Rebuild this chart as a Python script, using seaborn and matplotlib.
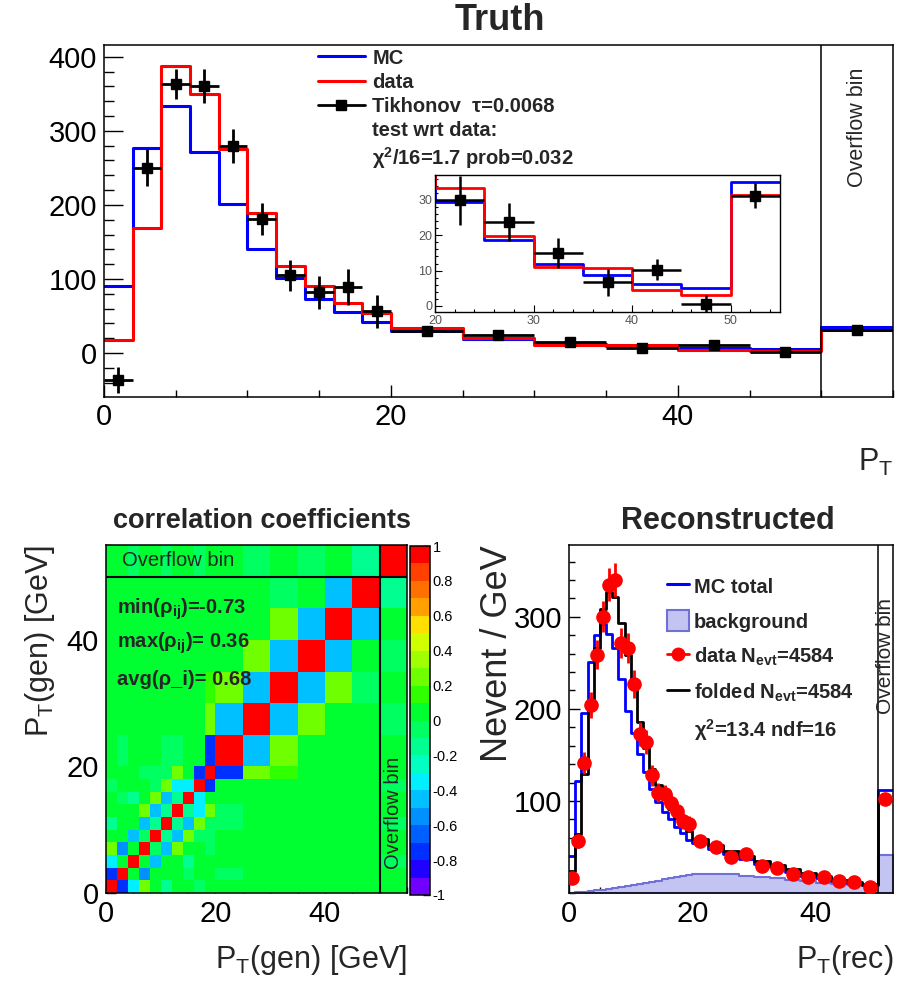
import numpy as np
import matplotlib
matplotlib.use("Agg")
import matplotlib.pyplot as plt
from matplotlib.colors import ListedColormap
from matplotlib.lines import Line2D
from matplotlib.patches import Patch
from matplotlib.ticker import MultipleLocator, FixedLocator
import seaborn as sns

# ---------------- data ----------------
truth_edges = [0, 2, 4, 6, 8, 10, 12, 14, 16, 18, 20, 25, 30, 35, 40, 45, 50, 55]
truth_mc = [90, 277, 334, 272, 201, 141, 101, 73, 55, 42, 29.4, 18.5, 11.8, 8.8, 6.2, 5.2, 35.0]
truth_data = [17, 169, 388, 350, 275, 189, 118, 90, 67, 54.5, 33.4, 19.8, 11.0, 10.7, 4.4, 3.2, 31.4]
unfold_val = [-36.5, 250, 363, 360, 279, 181, 105, 82, 89, 56, 29.8, 23.7, 15.0, 6.7, 10.3, 0.7, 31.2]
unfold_err = [17, 25, 20, 23, 23, 22, 21, 22, 24, 22, 7.0, 5.4, 4.2, 3.8, 3.0, 2.4, 3.5]

reco_edges = [0, 1, 2, 3, 4, 5, 6, 7, 8, 9, 10, 11, 12, 13, 14, 15, 16, 17, 18, 19, 20,
              22.5, 25, 27.5, 30, 32.5, 35, 37.5, 40, 42.5, 45, 47.5, 50, 52.5]
reco_mc = [40, 122, 195, 251, 280.5, 292, 281.6, 266, 232.5, 198,
           174, 151, 131, 113, 99, 88, 80, 72, 65, 58,
           54, 47.6, 42, 37, 31.4, 27.8, 23, 18.8, 16, 13.4, 10.5, 9.4, 111.5]
reco_bkg = [0.5, 1.0, 1.5, 2.2, 3.0, 3.8, 4.7, 5.6, 6.6, 7.6,
            8.7, 9.8, 11.0, 12.2, 13.5, 14.8, 16.0, 17.2, 18.3, 19.3,
            20.5, 21.0, 20.5, 18.5, 17.0, 16.0, 14.0, 12.5, 11.0, 9.7, 8.5, 7.5, 41.0]
reco_folded = [24, 64, 129, 205, 266, 309, 327, 322, 293, 259,
               224.5, 185.5, 157.8, 135, 117, 102, 91, 82, 75, 67.5,
               58.5, 52, 45.8, 40.4, 35, 30.3, 26, 21.7, 18, 14.4, 11.6, 9, 101]
reco_data = [15.9, 56.7, 141.5, 204, 259, 300, 335, 340, 271.5, 266,
             227, 173, 164, 128, 109, 107, 97.5, 89, 78, 75,
             56.7, 50, 39.4, 42.2, 29.6, 27, 20.6, 17, 17, 13.4, 11.6, 6.1, 101.8]
reco_data_err = [4, 7.5, 12, 14, 16, 17, 18, 18.5, 16.5, 16,
                 15, 13, 13, 11.3, 10.4, 10.3, 9.9, 9.4, 8.8, 8.7,
                 4.8, 4.5, 4.0, 4.1, 3.4, 3.3, 2.9, 2.6, 2.6, 2.3, 2.2, 1.6, 6.4]

R, DB, MB, LB, CY, SP, SG, G, Y1, YG = 1.0, -0.72, -0.55, -0.45, -0.35, -0.15, -0.05, 0.05, 0.15, 0.28
corr = [
    [R, DB, CY, YG, G, SP, G, G, SG, G, G, G, G, G, G, G, G],
    [DB, R, G, MB, G, G, G, SG, G, G, SG, G, G, G, G, G, G],
    [CY, G, R, G, LB, G, G, SP, G, G, G, G, G, G, G, G, SG],
    [YG, MB, G, R, SG, LB, YG, G, G, SG, G, G, G, G, G, G, G],
    [G, G, LB, SG, R, SP, LB, YG, SG, SG, G, G, G, G, G, G, G],
    [SP, G, G, LB, SP, R, SP, LB, YG, SG, SG, G, G, G, G, G, SG],
    [G, G, G, YG, LB, SP, R, SP, CY, YG, SG, G, G, G, G, G, G],
    [G, SG, SP, G, YG, LB, SP, R, CY, G, G, G, G, G, G, G, G],
    [SG, G, G, G, SG, YG, CY, CY, R, DB, G, G, G, G, G, G, SG],
    [G, G, G, SG, SG, SG, YG, G, DB, R, DB, YG, Y1, G, G, G, G],
    [G, SG, G, G, G, SG, SG, G, G, DB, R, LB, YG, G, G, G, G],
    [G, G, G, G, G, G, G, G, G, YG, LB, R, LB, YG, G, G, SG],
    [G, G, G, G, G, G, G, G, G, Y1, YG, LB, R, LB, YG, SG, G],
    [G, G, G, G, G, G, G, G, G, G, G, YG, LB, R, LB, G, SG],
    [G, G, G, G, G, G, G, G, G, G, G, G, YG, LB, R, LB, G],
    [G, G, G, G, G, G, G, G, G, G, G, G, SG, G, LB, R, SP],
    [G, G, SG, G, G, SG, G, G, SG, G, G, SG, G, SG, G, SP, R],
]
palette20 = ['#7000FF', '#2000FF', '#0030FF', '#0060FF', '#0090FF', '#00C0FF', '#00F0FF',
             '#00FFC0', '#00FF90', '#00FF60', '#00FF30', '#30FF00', '#70FF00', '#A0FF00',
             '#D0FF00', '#FFE000', '#FFA000', '#FF7000', '#FF4000', '#FF0000']
cbar_ticks = [-1, -0.8, -0.6, -0.4, -0.2, 0, 0.2, 0.4, 0.6, 0.8, 1]
cbar_labels = ['-1', '-0.8', '-0.6', '-0.4', '-0.2', '0', '0.2', '0.4', '0.6', '0.8', '1']

# ---------------- style ----------------
sns.set_style("ticks")
plt.rcParams.update({
    "font.family": ["Liberation Sans", "DejaVu Sans"],
    "mathtext.fontset": "custom",
    "mathtext.rm": "Liberation Sans",
    "mathtext.it": "Liberation Sans:italic",
    "mathtext.bf": "Liberation Sans:bold",
    "axes.linewidth": 1.1,
    "axes.edgecolor": "black",
    "xtick.color": "black",
    "ytick.color": "black",
})
BLUE, RED = "#0000ff", "#ff0000"
W, H = 899, 984


def fx(px):
    return px / W


def fy(py):
    return 1 - py / H


def centers(edges):
    e = np.asarray(edges, float)
    return 0.5 * (e[:-1] + e[1:]), 0.5 * np.diff(e)


def step_hist(ax, edges, values, fill=False, **kw):
    c, _ = centers(edges)
    sns.histplot(x=list(c), weights=list(values), bins=[float(v) for v in edges],
                 element="step", fill=fill, ax=ax, **kw)


fig = plt.figure(figsize=(W / 100, H / 100), dpi=100)

# ================= Truth =================
ax = fig.add_axes([fx(104), fy(397), fx(789), 352 / H])
step_hist(ax, truth_edges, truth_mc, color=BLUE, linewidth=2.2)
step_hist(ax, truth_edges, truth_data, color=RED, linewidth=2.2)
tc, thw = centers(truth_edges)
ax.errorbar(tc, unfold_val, xerr=thw, yerr=unfold_err, fmt='s', color='black', ms=7.5,
            elinewidth=2, capsize=0, zorder=5)
ax.axvline(50, color='black', lw=1.1)
ax.set_xlim(0, 55)
ax.set_ylim(-59.5, 416)
ax.set_xlabel('')
ax.set_ylabel('')
ax.xaxis.set_major_locator(FixedLocator([0, 20, 40]))
ax.xaxis.set_minor_locator(MultipleLocator(5))
ax.yaxis.set_major_locator(MultipleLocator(100))
ax.yaxis.set_minor_locator(MultipleLocator(20))
ax.tick_params(axis='both', which='both', direction='in', top=False, right=False,
               labelsize=21, width=1)
ax.tick_params(axis='y', which='major', length=13.5, pad=5)
ax.tick_params(axis='y', which='minor', length=7)
ax.tick_params(axis='x', which='major', length=8.5, pad=4)
ax.tick_params(axis='x', which='minor', length=5)
ax.text(52.5, 305, 'Overflow bin', rotation=90, ha='center', va='center', fontsize=15.5)

handles = [Line2D([], [], color=BLUE, lw=2.2), Line2D([], [], color=RED, lw=2.2),
           Line2D([], [], color='black', lw=2, marker='s', ms=7),
           Line2D([], [], color='none'), Line2D([], [], color='none')]
labels = ['MC', 'data', 'Tikhonov  τ=0.0068', 'test wrt data:',
          'χ$^{\\mathbf{2}}$/16=1.7 prob=0.032']
ax.legend(handles, labels, loc='upper left', bbox_to_anchor=(0.271, 0.99), frameon=False,
          prop=dict(weight='bold', size=14.5), handlelength=2.35, handletextpad=0.35,
          labelspacing=0.26, borderpad=0, borderaxespad=0)

# inset
axi = fig.add_axes([fx(435), fy(312), fx(345), 137 / H])
step_hist(axi, truth_edges, truth_mc, color=BLUE, linewidth=2)
step_hist(axi, truth_edges, truth_data, color=RED, linewidth=2)
axi.errorbar(tc, unfold_val, xerr=thw, yerr=unfold_err, fmt='s', color='black', ms=6.5,
             elinewidth=1.8, capsize=0, zorder=5)
axi.set_xlim(20, 55)
axi.set_ylim(-1.7, 37)
axi.set_xlabel('')
axi.set_ylabel('')
axi.xaxis.set_major_locator(FixedLocator([20, 30, 40, 50]))
axi.xaxis.set_minor_locator(MultipleLocator(2))
axi.yaxis.set_major_locator(MultipleLocator(10))
axi.yaxis.set_minor_locator(MultipleLocator(2))
axi.tick_params(axis='both', which='both', direction='in', top=False, right=False,
                labelsize=9, labelcolor='#555555', width=0.8, pad=2)
axi.tick_params(which='major', length=5)
axi.tick_params(which='minor', length=2.5)
for s in axi.spines.values():
    s.set_linewidth(1.0)

# ================= correlation matrix =================
axm = fig.add_axes([fx(106), fy(893), fx(301), 348 / H])
cax = fig.add_axes([fx(410), fy(895), fx(20), 349 / H])
xc, _ = centers(truth_edges)
X, Y = np.meshgrid(xc, xc)
te = [float(v) for v in truth_edges]
sns.histplot(x=list(X.ravel()), y=list(Y.ravel()), weights=list(np.asarray(corr).ravel()),
             bins=[te, te], thresh=None, cmap=ListedColormap(palette20), vmin=-1, vmax=1,
             cbar=True, cbar_ax=cax, ax=axm)
axm.axvline(50, color='black', lw=1.5)
axm.axhline(50, color='black', lw=1.5)
axm.set_xlim(0, 55)
axm.set_ylim(0, 55)
axm.set_xlabel('')
axm.set_ylabel('')
for a in (axm.xaxis, axm.yaxis):
    a.set_major_locator(FixedLocator([0, 20, 40]))
    a.set_minor_locator(MultipleLocator(5))
axm.tick_params(axis='both', which='both', direction='in', top=False, right=False,
                labelsize=21, width=1)
axm.tick_params(which='major', length=7, pad=5)
axm.tick_params(which='minor', length=4)
axm.text(3, 52.6, 'Overflow bin', ha='left', va='center', fontsize=14.5)
axm.text(52.5, 12.7, 'Overflow bin', rotation=90, ha='center', va='center', fontsize=14.5)
axm.text(2.0, 44.1, 'min(ρ$_{\\mathbf{ij}}$)=-0.73', fontsize=14.5, weight='bold', va='baseline')
axm.text(2.0, 38.7, 'max(ρ$_{\\mathbf{ij}}$)= 0.36', fontsize=14.5, weight='bold', va='baseline')
axm.text(2.0, 32.8, 'avg(ρ_i)= 0.68', fontsize=14.5, weight='bold', va='baseline')

cax.yaxis.set_major_locator(FixedLocator(cbar_ticks))
cax.set_yticklabels(cbar_labels)
cax.tick_params(axis='y', direction='in', length=5, width=1, labelsize=10.5, pad=2,
                right=True, left=False)
cax.yaxis.set_minor_locator(FixedLocator([]))

# ================= Reconstructed =================
axr = fig.add_axes([fx(569), fy(893), fx(324), 348 / H])
step_hist(axr, reco_edges, reco_bkg, fill=True, facecolor='#c4c4f2', edgecolor='#7070d6',
          linewidth=1.5)
step_hist(axr, reco_edges, reco_mc, color=BLUE, linewidth=2.0)
step_hist(axr, reco_edges, reco_folded, color='black', linewidth=2.0)
rc, _ = centers(reco_edges)
axr.errorbar(rc, reco_data, yerr=reco_data_err, fmt='o', color=RED, ms=9.5,
             elinewidth=2, capsize=0, zorder=6)
axr.axvline(50, color='black', lw=1.1)
axr.set_xlim(0, 52.5)
axr.set_ylim(0, 378)
axr.set_xlabel('')
axr.set_ylabel('')
axr.xaxis.set_major_locator(FixedLocator([0, 20, 40]))
axr.xaxis.set_minor_locator(MultipleLocator(5))
axr.yaxis.set_major_locator(FixedLocator([100, 200, 300]))
axr.yaxis.set_minor_locator(MultipleLocator(20))
axr.tick_params(axis='both', which='both', direction='in', top=False, right=False,
                labelsize=21, width=1)
axr.tick_params(which='major', length=8, pad=5)
axr.tick_params(which='minor', length=4.5)
axr.text(51.25, 257, 'Overflow bin', rotation=90, ha='center', va='center', fontsize=15)

rh = [Line2D([], [], color=BLUE, lw=2.2),
      Patch(facecolor='#c4c4f2', edgecolor='#7070d6', lw=1.5),
      Line2D([], [], color=RED, lw=2, marker='o', ms=9),
      Line2D([], [], color='black', lw=2),
      Line2D([], [], color='none')]
rl = ['MC total', 'background', 'data N$_{\\mathbf{evt}}$=4584',
      'folded N$_{\\mathbf{evt}}$=4584', 'χ$^{\\mathbf{2}}$=13.4 ndf=16']
axr.legend(rh, rl, loc='upper left', bbox_to_anchor=(0.302, 0.912), frameon=False,
           prop=dict(weight='bold', size=14.5), handlelength=1.1, handleheight=1.2,
           handletextpad=0.25, labelspacing=0.68, borderpad=0, borderaxespad=0)

# ================= titles & axis labels =================
fig.text(fx(500), fy(20), 'Truth', ha='center', va='center', fontsize=26, weight='bold')
fig.text(fx(262), fy(521), 'correlation coefficients', ha='center', va='center',
         fontsize=19.5, weight='bold')
fig.text(fx(728), fy(521), 'Reconstructed', ha='center', va='center', fontsize=22,
         weight='bold')
fig.text(fx(893), fy(462), 'P$_{\\mathrm{T}}$', ha='right', va='center', fontsize=22)
fig.text(fx(40), fy(545), 'P$_{\\mathrm{T}}$(gen) [GeV]', rotation=90, ha='center', va='top',
         fontsize=22)
fig.text(fx(407), fy(960), 'P$_{\\mathrm{T}}$(gen) [GeV]', ha='right', va='center', fontsize=22)
fig.text(fx(497), fy(545), 'Nevent / GeV', rotation=90, ha='center', va='top', fontsize=26)
fig.text(fx(893), fy(960), 'P$_{\\mathrm{T}}$(rec)', ha='right', va='center', fontsize=22)

fig.savefig('out.png', dpi=100)
